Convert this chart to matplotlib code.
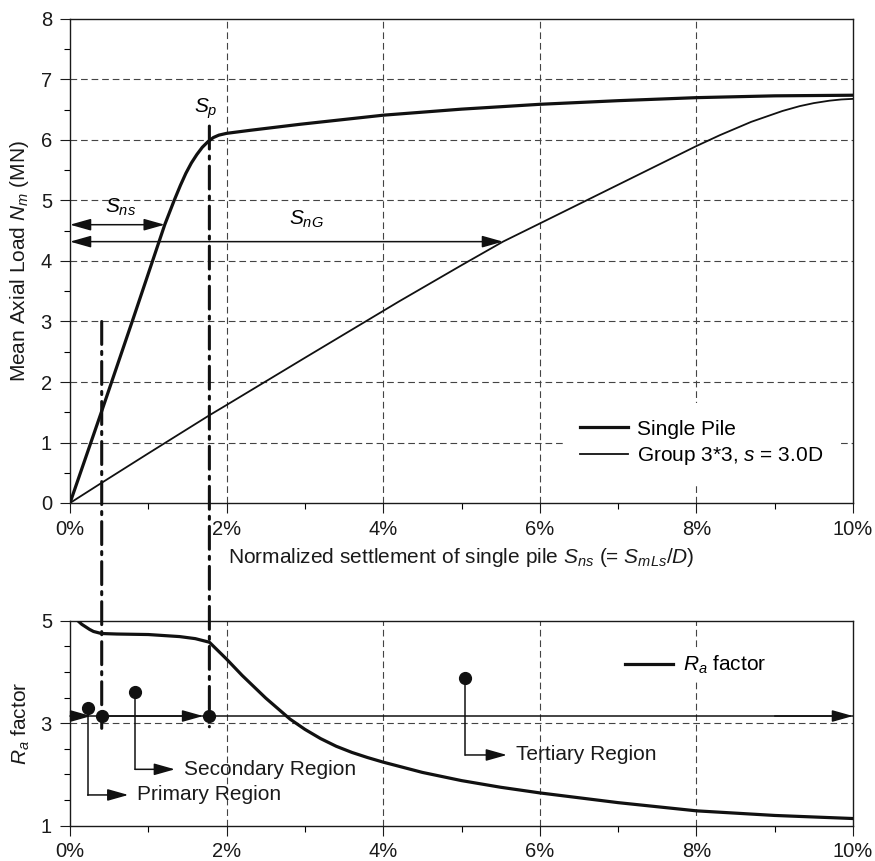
import matplotlib
matplotlib.use("Agg")
import matplotlib.pyplot as plt
from matplotlib.patches import ConnectionPatch

plt.rcParams['font.family'] = ['Liberation Sans', 'DejaVu Sans']
plt.rcParams['mathtext.fontset'] = 'custom'
plt.rcParams['mathtext.rm'] = 'Liberation Sans'
plt.rcParams['mathtext.it'] = 'Liberation Sans:italic'
plt.rcParams['mathtext.bf'] = 'Liberation Sans:bold'

# ---------------- data ----------------
single_x = [0, 0.4, 0.81, 1.21, 1.33, 1.41, 1.48, 1.55, 1.62, 1.69, 1.76, 1.83, 1.90,
            2.0, 2.3, 2.94, 4.0, 5.0, 6.0, 7.0, 8.0, 9.0, 10.0]
single_y = [0, 1.5, 3.06, 4.6, 5.0, 5.25, 5.45, 5.62, 5.76, 5.88, 5.97, 6.04, 6.08,
            6.11, 6.16, 6.26, 6.41, 6.51, 6.59, 6.65, 6.70, 6.73, 6.74]

group_x = [0, 0.4, 1.0, 1.78, 2.0, 3.0, 4.2, 5.0, 5.53, 6.0, 7.0, 8.0, 8.15, 8.3,
           8.5, 8.7, 8.9, 9.1, 9.32, 9.5, 9.7, 9.85, 10.0]
group_y = [0, 0.33, 0.82, 1.45, 1.62, 2.40, 3.33, 3.93, 4.32, 4.62, 5.26, 5.9, 5.99,
           6.08, 6.19, 6.30, 6.39, 6.48, 6.56, 6.61, 6.65, 6.67, 6.68]

ra_x = [0.1, 0.15, 0.2, 0.25, 0.3, 0.35, 0.4, 0.6, 1.0, 1.4, 1.6, 1.78, 1.9, 2.0,
        2.2, 2.5, 2.81, 3.0, 3.2, 3.4, 3.6, 3.8, 4.0, 4.5, 5.0, 5.5, 6.0, 7.0, 8.0,
        9.0, 10.0]
ra_y = [5.0, 4.93, 4.88, 4.83, 4.79, 4.77, 4.75, 4.74, 4.73, 4.69, 4.65, 4.58, 4.40,
        4.25, 3.93, 3.49, 3.08, 2.88, 2.70, 2.55, 2.43, 2.33, 2.24, 2.04, 1.88, 1.75,
        1.64, 1.45, 1.29, 1.20, 1.14]

x_ticks = [0, 2, 4, 6, 8, 10]
x_tick_labels = ['0%', '2%', '4%', '6%', '8%', '10%']
top_y_ticks = [0, 1, 2, 3, 4, 5, 6, 7, 8]
bot_y_ticks = [1, 3, 5]

s_primary = 0.405      # end of primary region (%)
s_p = 1.78             # S_p (%)
sns_level, sns_end = 4.6, 1.21
sng_level, sng_end = 4.32, 5.53
region_line_y = 3.14
region_dots = {'Primary Region': (0.226, 3.29, 1.60, 0.745),
               'Secondary Region': (0.83, 3.61, 2.10, 1.34),
               'Tertiary Region': (5.05, 3.89, 2.38, 5.58)}

FS_TICK = 14.5
FS = 15
W, H = 875, 861
fig = plt.figure(figsize=(W / 100, H / 100), dpi=100)
ax1 = fig.add_axes([70 / W, 1 - 503 / H, 783 / W, 484 / H])
ax2 = fig.add_axes([70 / W, 1 - 825.7 / H, 783 / W, 205 / H])

grid_kw = dict(color='#444444', lw=0.8, ls=(0, (6, 3.5)), zorder=0.5)
for ax in (ax1, ax2):
    ax.set_xlim(0, 10)
    ax.set_xticks(x_ticks)
    ax.set_xticklabels(x_tick_labels)
    ax.set_xticks([1, 3, 5, 7, 9], minor=True)
    ax.tick_params(axis='both', which='major', direction='out', length=7, width=0.8,
                   labelsize=FS_TICK, colors='#1a1a1a')
    ax.tick_params(axis='both', which='minor', direction='out', length=4, width=0.8)
    ax.tick_params(axis='x', which='major', pad=5)
    ax.tick_params(axis='y', which='major', pad=6)
    for sp in ax.spines.values():
        sp.set_linewidth(1.0)
        sp.set_color('#1a1a1a')
    for gx in [2, 4, 6, 8]:
        ax.axvline(gx, **grid_kw)

# ---------------- top panel ----------------
ax1.set_ylim(0, 8)
ax1.set_yticks(top_y_ticks)
ax1.set_yticks([v + 0.5 for v in range(8)], minor=True)
for gy in range(1, 8):
    ax1.axhline(gy, **grid_kw)

l1, = ax1.plot(single_x, single_y, color='#111111', lw=2.3, label='Single Pile', zorder=3)
l2, = ax1.plot(group_x, group_y, color='#111111', lw=1.3, label='Group 3*3, $s$ = 3.0D',
               zorder=3)

leg1 = ax1.legend(handles=[l1, l2], loc='upper left',
                  bbox_to_anchor=((563 - 70) / 783, (503 - 403) / 484),
                  borderaxespad=0, borderpad=0.8, frameon=True, fancybox=False,
                  facecolor='white', edgecolor='none', framealpha=1,
                  fontsize=FS, handlelength=2.3, handletextpad=0.45, labelspacing=0.3)
leg1.set_zorder(2)

ax1.set_ylabel('Mean Axial Load $N_m$ (MN)', fontsize=FS, color='#1a1a1a')
ax1.yaxis.set_label_coords(-0.05, 0.5)
ax1.set_xlabel('Normalized settlement of single pile $S_{ns}$ (= $S_{mLs}$/$D$)',
               fontsize=FS, color='#1a1a1a')
ax1.xaxis.set_label_coords(0.5, -0.088)

arr2 = dict(arrowstyle='<|-|>,head_length=0.85,head_width=0.24', color='#111111',
            lw=1.1, shrinkA=0, shrinkB=0, mutation_scale=15)
ax1.annotate('', xy=(sns_end, sns_level), xytext=(0, sns_level), arrowprops=arr2,
             zorder=4)
ax1.annotate('', xy=(sng_end, sng_level), xytext=(0, sng_level), arrowprops=arr2,
             zorder=4)
ax1.text(0.65, 4.88, '$S_{ns}$', fontsize=FS, ha='center', va='center')
ax1.text(3.02, 4.69, '$S_{nG}$', fontsize=FS, ha='center', va='center')
ax1.text(1.74, 6.51, '$S_p$', fontsize=FS, ha='center', va='center')

# ---------------- bottom panel ----------------
ax2.set_ylim(1, 5)
ax2.set_yticks(bot_y_ticks)
ax2.set_yticks([1.5, 2, 2.5, 3.5, 4, 4.5], minor=True)
ax2.axhline(3, **grid_kw)

l3, = ax2.plot(ra_x, ra_y, color='#111111', lw=2.3, label='$R_a$ factor', zorder=3)
leg2 = ax2.legend(handles=[l3], loc='center left',
                  bbox_to_anchor=((625 - 6 - 70) / 783, (825.7 - 665) / 205),
                  borderaxespad=0, borderpad=0.3, frameon=True, fancybox=False,
                  facecolor='white', edgecolor='none', framealpha=1,
                  fontsize=FS, handlelength=2.3, handletextpad=0.45)
leg2.set_zorder(2)

ax2.set_ylabel('$R_a$ factor', fontsize=FS, color='#1a1a1a')
ax2.yaxis.set_label_coords(-0.048, 0.5)

arr1 = dict(arrowstyle='-|>,head_length=0.85,head_width=0.24', color='#111111',
            lw=1.1, shrinkA=0, shrinkB=0, mutation_scale=15)
ax2.plot([0, 10], [region_line_y, region_line_y], color='#111111', lw=1.1, zorder=3)
ax2.annotate('', xy=(0.27, region_line_y), xytext=(0, region_line_y), arrowprops=arr1,
             zorder=4)
ax2.annotate('', xy=(1.70, region_line_y), xytext=(0.5, region_line_y), arrowprops=arr1,
             zorder=4)
ax2.annotate('', xy=(10, region_line_y), xytext=(9, region_line_y), arrowprops=arr1,
             zorder=4)
ax2.plot([s_primary, s_p], [region_line_y, region_line_y], 'o', color='#111111',
         ms=8.5, zorder=5)

for name, (dx, dy, ly, ax_end) in region_dots.items():
    ax2.plot([dx, dx], [dy, ly], color='#111111', lw=1.1, zorder=4)
    ax2.plot([dx], [dy], 'o', color='#111111', ms=8.5, zorder=5)
    ax2.annotate('', xy=(ax_end, ly), xytext=(dx, ly), arrowprops=arr1, zorder=4)
    ax2.text(ax_end + 0.11, ly, name, fontsize=FS, ha='left', va='center',
             color='#1a1a1a')

# ---------------- dash-dot connectors across panels ----------------
dd = (0, (7.5, 2.3, 1, 2.3))
for xv, ytop, ybot in [(s_primary, 3.0, 2.9), (s_p, 6.23, 2.93)]:
    cp = ConnectionPatch(xyA=(xv, ytop), coordsA=ax1.transData,
                         xyB=(xv, ybot), coordsB=ax2.transData,
                         color='#111111', lw=2.2, linestyle=dd, zorder=6)
    fig.add_artist(cp)

fig.savefig('out.png', dpi=100)
